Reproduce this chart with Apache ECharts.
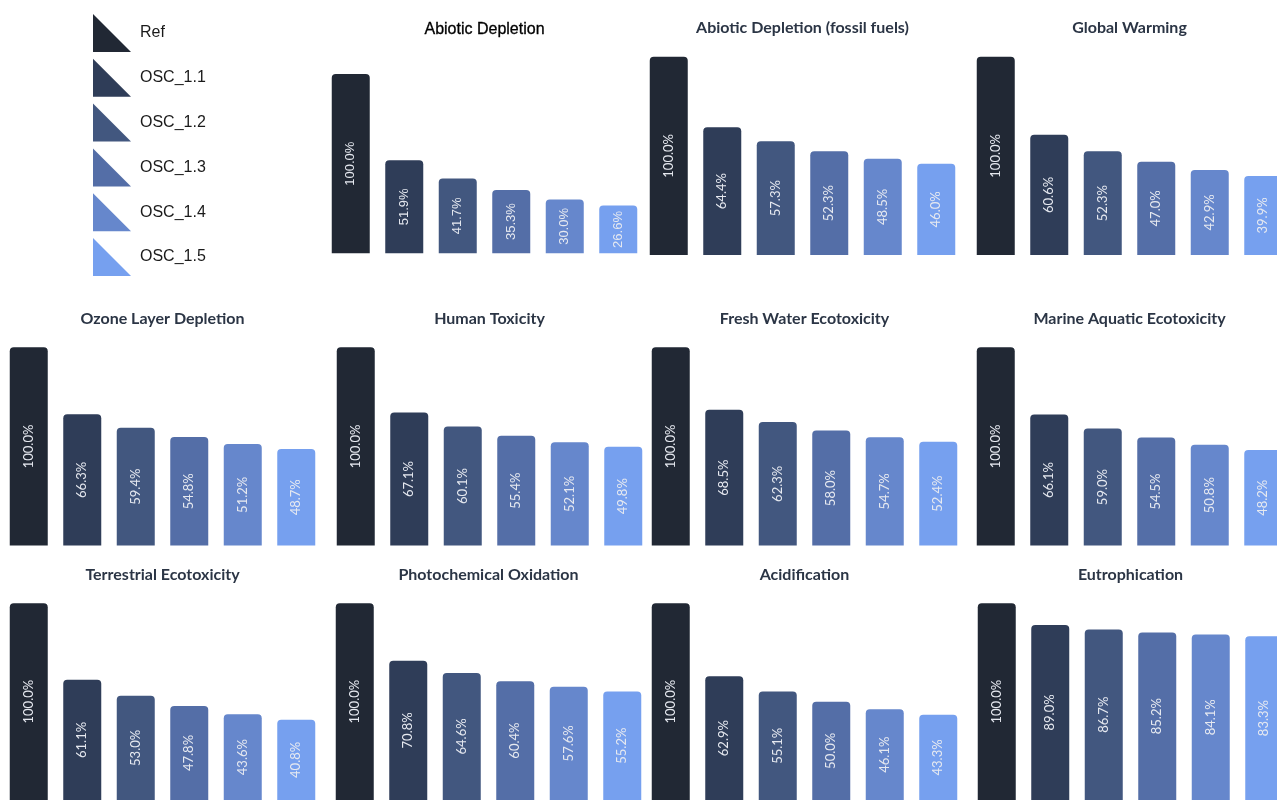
<!DOCTYPE html>
<html>
<head>
<meta charset="utf-8">
<title>Impact categories relative to Ref</title>
<script src="https://cdn.jsdelivr.net/npm/echarts@6/dist/echarts.min.js"></script>
<style>
  html, body { margin: 0; padding: 0; background: #ffffff; overflow: hidden; }
  /* the right-hand column runs past the page edge */
  #chart { width: 1320px; height: 800px; }
</style>
</head>
<body>
<div id="chart"></div>
<script>
// Scenarios (one bar each per impact category)
const scenarios = ['Ref', 'OSC_1.1', 'OSC_1.2', 'OSC_1.3', 'OSC_1.4', 'OSC_1.5'];

// Impact category titles, in reading order
const impactTitles = [
  'Abiotic Depletion', 'Abiotic Depletion (fossil fuels)', 'Global Warming',
  'Ozone Layer Depletion', 'Human Toxicity', 'Fresh Water Ecotoxicity', 'Marine Aquatic Ecotoxicity',
  'Terrestrial Ecotoxicity', 'Photochemical Oxidation', 'Acidification', 'Eutrophication'
];

// Values in % of Ref, per impact category
const abioticDepletion        = [100.0, 51.9, 41.7, 35.3, 30.0, 26.6];
const abioticDepletionFossil  = [100.0, 64.4, 57.3, 52.3, 48.5, 46.0];
const globalWarming           = [100.0, 60.6, 52.3, 47.0, 42.9, 39.9];
const ozoneLayerDepletion     = [100.0, 66.3, 59.4, 54.8, 51.2, 48.7];
const humanToxicity           = [100.0, 67.1, 60.1, 55.4, 52.1, 49.8];
const freshWaterEcotoxicity   = [100.0, 68.5, 62.3, 58.0, 54.7, 52.4];
const marineAquaticEcotoxicity= [100.0, 66.1, 59.0, 54.5, 50.8, 48.2];
const terrestrialEcotoxicity  = [100.0, 61.1, 53.0, 47.8, 43.6, 40.8];
const photochemicalOxidation  = [100.0, 70.8, 64.6, 60.4, 57.6, 55.2];
const acidification           = [100.0, 62.9, 55.1, 50.0, 46.1, 43.3];
const eutrophication          = [100.0, 89.0, 86.7, 85.2, 84.1, 83.3];

const impactValues = [
  abioticDepletion, abioticDepletionFossil, globalWarming,
  ozoneLayerDepletion, humanToxicity, freshWaterEcotoxicity, marineAquaticEcotoxicity,
  terrestrialEcotoxicity, photochemicalOxidation, acidification, eutrophication
];

const colors = ['#212834', '#2f3d58', '#42577f', '#546ea7', '#6687cc', '#76a0ef'];

// Panel placement: grid left, top of the 100% line, plot height, title centre y
const panelWidth = 321;
const panels = [
  { left: 324, top: 74,    height: 179.3, titleY: 29,  font: 'Liberation Sans' },
  { left: 642, top: 56.7,  height: 198.3, titleY: 27 },
  { left: 969, top: 56.7,  height: 198.3, titleY: 27 },
  { left: 2,   top: 347.3, height: 198.3, titleY: 318 },
  { left: 329, top: 347.3, height: 198.3, titleY: 318 },
  { left: 644, top: 347.3, height: 198.3, titleY: 318 },
  { left: 969, top: 347.3, height: 198.3, titleY: 318 },
  { left: 2,   top: 603.3, height: 198.3, titleY: 574 },
  { left: 328, top: 603.3, height: 198.3, titleY: 574 },
  { left: 644, top: 603.3, height: 198.3, titleY: 574 },
  { left: 970, top: 603.3, height: 198.3, titleY: 574 }
];

const grids = [], xAxes = [], yAxes = [], titles = [], series = [];

panels.forEach((p, i) => {
  const isArial = p.font === 'Liberation Sans';
  grids.push({ left: p.left, top: p.top, width: panelWidth, height: p.height });
  xAxes.push({ type: 'category', gridIndex: i, data: scenarios, show: false });
  yAxes.push({ type: 'value', gridIndex: i, min: 0, max: 100, show: false });
  titles.push({
    text: impactTitles[i],
    left: p.left + panelWidth / 2,
    top: p.titleY - 7,
    textAlign: 'center',
    padding: 0,
    textStyle: isArial
      ? { fontFamily: 'Liberation Sans', fontSize: 16, fontWeight: 'normal', color: '#000000',
          textBorderColor: '#000000', textBorderWidth: 0.3 }
      : { fontFamily: 'Lato', fontSize: 16, fontWeight: 'bold', color: '#2b3545' }
  });
  scenarios.forEach((name, k) => {
    const data = impactValues[i].map((v, j) => (j === k ? v : '-'));
    series.push({
      type: 'bar',
      name: name,
      xAxisIndex: i,
      yAxisIndex: i,
      stack: 'panel' + i,
      barWidth: 38,
      data: data,
      itemStyle: { color: colors[k], borderRadius: [4, 4, 0, 0] },
      label: {
        show: true,
        position: 'inside',
        rotate: 90,
        color: '#e6e9f0',
        fontFamily: isArial ? 'Liberation Sans' : 'Lato',
        fontSize: 13,
        formatter: (prm) => prm.value.toFixed(1) + '%'
      },
      emphasis: { disabled: true },
      animation: false
    });
  });
});

const chart = echarts.init(document.getElementById('chart'), null, { renderer: 'canvas' });
chart.setOption({
  backgroundColor: '#ffffff',
  animation: false,
  color: colors,
  title: titles,
  legend: {
    orient: 'vertical',
    left: 93,
    top: 14,
    padding: 0,
    itemWidth: 38,
    itemHeight: 38,
    itemGap: 6.8,
    icon: 'path://M0,0L0,10L10,10Z',
    data: scenarios,
    textStyle: { fontFamily: 'Liberation Sans', fontSize: 16, color: '#1a1a1a', padding: [2, 0, 0, 4] }
  },
  grid: grids,
  xAxis: xAxes,
  yAxis: yAxes,
  series: series
});
</script>
</body>
</html>
